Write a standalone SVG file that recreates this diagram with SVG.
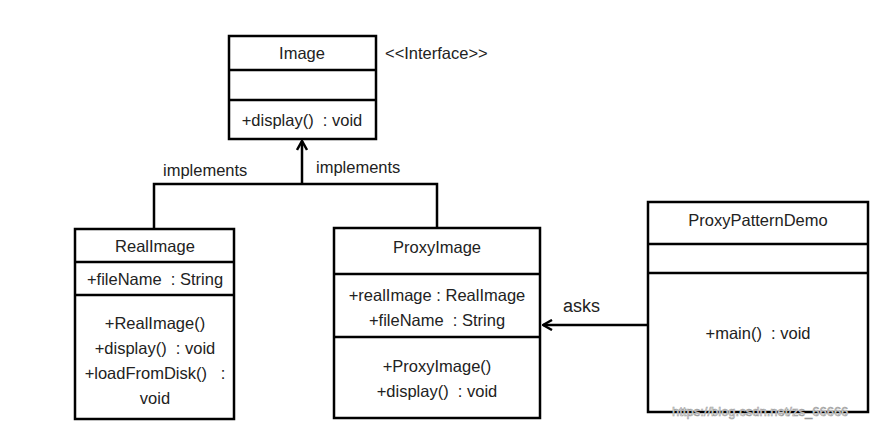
<svg xmlns="http://www.w3.org/2000/svg" width="895" height="429" viewBox="0 0 895 429">
<style>
.box{fill:#fff;stroke:#000;stroke-width:2.5}
.ln{stroke:#000;stroke-width:2.5;fill:none}
text{font-family:"Liberation Sans",Arial,sans-serif;font-size:16.5px;fill:#222;text-anchor:middle;white-space:pre}
.l{text-anchor:start}
.big{font-size:18px}
.wm{font-size:13px;fill:#fff;stroke:#999;stroke-width:0.6;text-anchor:start}
</style>
<defs>
<marker id="open" viewBox="0 0 12 12" refX="11" refY="6" markerWidth="12" markerHeight="12" markerUnits="userSpaceOnUse" orient="auto">
<path d="M2,1 L11,6 L2,11" fill="none" stroke="#000" stroke-width="2.5"/>
</marker>
</defs>
<rect width="895" height="429" fill="#fff"/>
<g id="connectors">
<path class="ln" d="M154,229 V184 H437 V228"/>
<path class="ln" d="M302,184 V141" marker-end="url(#open)"/>
<path class="ln" d="M648,325 H543" marker-end="url(#open)"/>
<text class="l" x="163" y="176">implements</text>
<text class="l" x="316" y="173">implements</text>
<text class="l big" x="563" y="312">asks</text>
</g>
<g id="Image">
<rect class="box" x="229" y="36" width="147" height="103"/>
<line class="ln" x1="229" y1="70" x2="376" y2="70"/>
<line class="ln" x1="229" y1="100" x2="376" y2="100"/>
<text x="302" y="59">Image</text>
<text x="302" y="126" xml:space="preserve">+display()  : void</text>
<text class="l" x="385" y="59">&lt;&lt;Interface&gt;&gt;</text>
</g>
<g id="RealImage">
<rect class="box" x="75" y="229" width="159" height="190"/>
<line class="ln" x1="75" y1="262" x2="234" y2="262"/>
<line class="ln" x1="75" y1="295" x2="234" y2="295"/>
<text x="155" y="252">RealImage</text>
<text x="155" y="285" xml:space="preserve">+fileName  : String</text>
<text x="155" y="329">+RealImage()</text>
<text x="155" y="354" xml:space="preserve">+display()  : void</text>
<text x="155" y="379" xml:space="preserve">+loadFromDisk()   :</text>
<text x="155" y="404">void</text>
</g>
<g id="ProxyImage">
<rect class="box" x="334" y="228" width="206" height="190"/>
<line class="ln" x1="334" y1="274" x2="540" y2="274"/>
<line class="ln" x1="334" y1="337" x2="540" y2="337"/>
<text x="437" y="253">ProxyImage</text>
<text x="437" y="301">+realImage : RealImage</text>
<text x="437" y="326" xml:space="preserve">+fileName  : String</text>
<text x="437" y="372">+ProxyImage()</text>
<text x="437" y="397" xml:space="preserve">+display()  : void</text>
</g>
<g id="ProxyPatternDemo">
<rect class="box" x="648" y="202" width="220" height="210"/>
<line class="ln" x1="648" y1="244" x2="868" y2="244"/>
<line class="ln" x1="648" y1="273" x2="868" y2="273"/>
<text x="758" y="226">ProxyPatternDemo</text>
<text x="758" y="339" xml:space="preserve">+main()  : void</text>
</g>
<text class="wm" x="672" y="416">https://blog.csdn.net/zs_66666</text>
</svg>
